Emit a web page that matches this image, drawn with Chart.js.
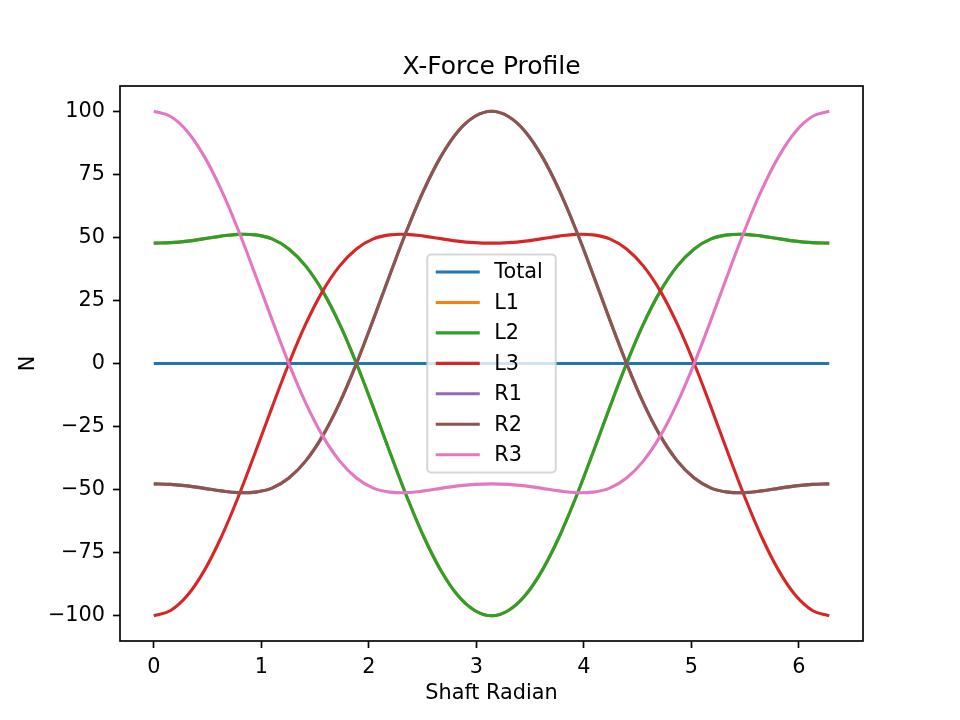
<!DOCTYPE html>
<html>
<head>
<meta charset="utf-8">
<title>X-Force Profile</title>
<script src="https://cdn.jsdelivr.net/npm/chart.js@4.4.0/dist/chart.umd.min.js"></script>
<style>
  html, body { margin: 0; padding: 0; background: #fff; }
  canvas { display: block; }
</style>
</head>
<body>
<canvas id="force-chart" width="960" height="720"></canvas>
<script>
// shaft angle samples (rad), pi/20 apart
var shaftRad = [0, 0.157, 0.314, 0.471, 0.628, 0.785, 0.942, 1.100, 1.257, 1.414,
  1.571, 1.728, 1.885, 2.042, 2.199, 2.356, 2.513, 2.670, 2.827, 2.985,
  3.142, 3.299, 3.456, 3.613, 3.770, 3.927, 4.084, 4.241, 4.398, 4.555,
  4.712, 4.869, 5.027, 5.184, 5.341, 5.498, 5.655, 5.812, 5.969, 6.126, 6.283];

var total = [0, 0, 0, 0, 0, 0, 0, 0, 0, 0, 0, 0, 0, 0, 0, 0, 0, 0, 0, 0,
  0, 0, 0, 0, 0, 0, 0, 0, 0, 0, 0, 0, 0, 0, 0, 0, 0, 0, 0, 0, 0];

var l1 = [47.7, 47.9, 48.5, 49.5, 50.5, 51.2, 51.0, 49.4, 45.4, 38.6,
  28.7, 15.7, 0.0, -17.4, -35.5, -53.0, -68.8, -82.0, -91.9, -97.9,
  -100.0, -97.9, -91.9, -82.0, -68.8, -53.0, -35.5, -17.4, 0.0, 15.7,
  28.7, 38.6, 45.4, 49.4, 51.0, 51.2, 50.5, 49.5, 48.5, 47.9, 47.7];

var l2 = [47.7, 47.9, 48.5, 49.5, 50.5, 51.2, 51.0, 49.4, 45.4, 38.6,
  28.7, 15.7, 0.0, -17.4, -35.5, -53.0, -68.8, -82.0, -91.9, -97.9,
  -100.0, -97.9, -91.9, -82.0, -68.8, -53.0, -35.5, -17.4, 0.0, 15.7,
  28.7, 38.6, 45.4, 49.4, 51.0, 51.2, 50.5, 49.5, 48.5, 47.9, 47.7];

var l3 = [-100.0, -97.9, -91.9, -82.0, -68.8, -53.0, -35.5, -17.4, 0.0, 15.7,
  28.7, 38.6, 45.4, 49.4, 51.0, 51.2, 50.5, 49.5, 48.5, 47.9,
  47.7, 47.9, 48.5, 49.5, 50.5, 51.2, 51.0, 49.4, 45.4, 38.6,
  28.7, 15.7, 0.0, -17.4, -35.5, -53.0, -68.8, -82.0, -91.9, -97.9, -100.0];

var r1 = [-47.7, -47.9, -48.5, -49.5, -50.5, -51.2, -51.0, -49.4, -45.4, -38.6,
  -28.7, -15.7, 0.0, 17.4, 35.5, 53.0, 68.8, 82.0, 91.9, 97.9,
  100.0, 97.9, 91.9, 82.0, 68.8, 53.0, 35.5, 17.4, 0.0, -15.7,
  -28.7, -38.6, -45.4, -49.4, -51.0, -51.2, -50.5, -49.5, -48.5, -47.9, -47.7];

var r2 = [-47.7, -47.9, -48.5, -49.5, -50.5, -51.2, -51.0, -49.4, -45.4, -38.6,
  -28.7, -15.7, 0.0, 17.4, 35.5, 53.0, 68.8, 82.0, 91.9, 97.9,
  100.0, 97.9, 91.9, 82.0, 68.8, 53.0, 35.5, 17.4, 0.0, -15.7,
  -28.7, -38.6, -45.4, -49.4, -51.0, -51.2, -50.5, -49.5, -48.5, -47.9, -47.7];

var r3 = [100.0, 97.9, 91.9, 82.0, 68.8, 53.0, 35.5, 17.4, 0.0, -15.7,
  -28.7, -38.6, -45.4, -49.4, -51.0, -51.2, -50.5, -49.5, -48.5, -47.9,
  -47.7, -47.9, -48.5, -49.5, -50.5, -51.2, -51.0, -49.4, -45.4, -38.6,
  -28.7, -15.7, 0.0, 17.4, 35.5, 53.0, 68.8, 82.0, 91.9, 97.9, 100.0];

var seriesNames = ["Total", "L1", "L2", "L3", "R1", "R2", "R3"];
var seriesColors = ["#1f77b4", "#ff7f0e", "#2ca02c", "#d62728", "#9467bd", "#8c564b", "#e377c2"];
var xTicks = [0, 1, 2, 3, 4, 5, 6];
var yTicks = [-100, -75, -50, -25, 0, 25, 50, 75, 100];

var FONT = '"DejaVu Sans", "Liberation Sans", sans-serif';

function toPoints(vals) {
  return vals.map(function (v, i) { return { x: shaftRad[i], y: v }; });
}

var allSeries = [total, l1, l2, l3, r1, r2, r3];
var datasets = allSeries.map(function (vals, i) {
  return {
    label: seriesNames[i],
    data: toPoints(vals),
    borderColor: seriesColors[i],
    backgroundColor: seriesColors[i],
    borderWidth: 3.1,
    pointRadius: 0,
    fill: false,
    tension: 0.4,
    // later series on top, like matplotlib
    order: seriesNames.length - i
  };
});

function roundBox(ctx, x, y, w, h, r) {
  ctx.beginPath();
  ctx.moveTo(x + r, y);
  ctx.arcTo(x + w, y, x + w, y + h, r);
  ctx.arcTo(x + w, y + h, x, y + h, r);
  ctx.arcTo(x, y + h, x, y, r);
  ctx.arcTo(x, y, x + w, y, r);
  ctx.closePath();
}

function drawLegend(chart) {
  var ctx = chart.ctx, a = chart.chartArea;
  var rowH = 30.45, boxW = 128.5, boxH = 218;
  var bx = (a.left + a.right) / 2 - boxW / 2;
  var by = (a.top + a.bottom) / 2 - boxH / 2;
  roundBox(ctx, bx, by, boxW, boxH, 4);
  ctx.fillStyle = 'rgba(255,255,255,0.8)';
  ctx.fill();
  ctx.strokeStyle = 'rgba(204,204,204,0.8)';
  ctx.lineWidth = 2;
  ctx.stroke();
  ctx.font = '20.8px ' + FONT;
  ctx.textAlign = 'left';
  ctx.textBaseline = 'middle';
  chart.data.datasets.forEach(function (ds, i) {
    var y = by + 17.5 + i * rowH;
    ctx.strokeStyle = ds.borderColor;
    ctx.lineWidth = 3.1;
    ctx.beginPath();
    ctx.moveTo(bx + 8.5, y);
    ctx.lineTo(bx + 52.5, y);
    ctx.stroke();
    ctx.fillStyle = '#000';
    ctx.fillText(ds.label, bx + 67, y + 1);
  });
}

var framePlugin = {
  id: 'frame',
  afterDatasetsDraw: function (chart) {
    var ctx = chart.ctx, a = chart.chartArea;
    ctx.save();
    ctx.strokeStyle = '#000';
    ctx.lineWidth = 1.67;
    ctx.strokeRect(a.left, a.top, a.right - a.left, a.bottom - a.top);
    ctx.fillStyle = '#000';
    ctx.font = '25px ' + FONT;
    ctx.textAlign = 'center';
    ctx.textBaseline = 'alphabetic';
    ctx.fillText('X-Force Profile', (a.left + a.right) / 2, a.top - 12.5);
    drawLegend(chart);
    ctx.restore();
  }
};

var CHART = document.getElementById("force-chart");
var forceChart = new Chart(CHART, {
  type: 'line',
  data: { datasets: datasets },
  plugins: [framePlugin],
  options: {
    responsive: false,
    animation: false,
    devicePixelRatio: 1,
    layout: { padding: { top: 86, right: 97, left: 0, bottom: 0 } },
    plugins: {
      legend: { display: false },
      title: { display: false },
      tooltip: { enabled: false }
    },
    scales: {
      x: {
        type: 'linear',
        min: -0.314,
        max: 6.597,
        afterBuildTicks: function (scale) {
          scale.ticks = xTicks.map(function (v) { return { value: v }; });
        },
        afterFit: function (scale) { scale.height = 79; },
        border: { display: false },
        grid: { drawOnChartArea: false, drawTicks: true, tickLength: 7, tickWidth: 1.67, tickColor: '#000' },
        ticks: { color: '#000', padding: 7, maxRotation: 0, font: { family: FONT, size: 20.8 } },
        title: { display: true, text: 'Shaft Radian', color: '#000', font: { family: FONT, size: 20.8 }, padding: { top: 0, bottom: 14 } }
      },
      y: {
        type: 'linear',
        min: -110,
        max: 110,
        afterBuildTicks: function (scale) {
          scale.ticks = yTicks.map(function (v) { return { value: v }; });
        },
        afterFit: function (scale) { scale.width = 120; },
        border: { display: false },
        grid: { drawOnChartArea: false, drawTicks: true, tickLength: 7, tickWidth: 1.67, tickColor: '#000' },
        ticks: {
          color: '#000', padding: 8, font: { family: FONT, size: 20.8 },
          callback: function (v) { return v < 0 ? '\u2212' + (-v) : String(v); }
        },
        title: { display: true, text: 'N', color: '#000', font: { family: FONT, size: 20.8 }, padding: { top: 16, bottom: 0 } }
      }
    }
  }
});
</script>
</body>
</html>
